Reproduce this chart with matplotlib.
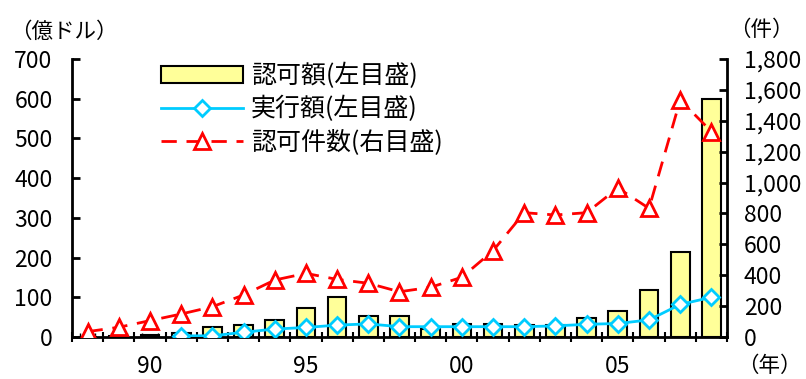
import numpy as np
import matplotlib.pyplot as plt
from matplotlib.ticker import FixedLocator, MultipleLocator, FuncFormatter

plt.rcParams['font.family'] = ['Noto Sans CJK JP', 'DejaVu Sans']

# 年次データ (1988-2008)
years = np.arange(1988, 2009)
approved_amt = [1, 2, 4, 10, 25, 30, 42, 72, 101, 53, 52, 20, 32, 32, 31, 31, 49, 66, 119, 214, 600]
executed_amt = [np.nan, np.nan, np.nan, 3, 3, 12, 20, 24, 30, 33, 26, 26, 26, 26, 26, 28, 32, 34, 43, 82, 100]
approved_cnt = [35, 63, 106, 149, 196, 272, 369, 412, 373, 348, 293, 322, 387, 559, 805, 790, 805, 965, 833, 1535, 1330]

xlabel_years = [1990, 1995, 2000, 2005]
xlabel_text = ['90', '95', '00', '05']

bar_color = '#FFFF99'
cyan = '#00CCFF'
red = '#FF0000'

fig = plt.figure(figsize=(8.06, 3.79), dpi=100)
ax = fig.add_axes([0.0893, 0.1108, 0.8127, 0.7335])
ax2 = ax.twinx()

bars = ax.bar(years, approved_amt, width=0.6, color=bar_color, edgecolor='black',
              linewidth=1.5, zorder=2, label='認可額(左目盛)')
line1, = ax.plot(years, executed_amt, color=cyan, lw=2, marker='D', ms=8,
                 mfc='white', mec=cyan, mew=2, zorder=3, label='実行額(左目盛)')
line2, = ax2.plot(years, approved_cnt, color=red, lw=2, dashes=(5.5, 3.5), marker='^', ms=11,
                  mfc='white', mec=red, mew=2, label='認可件数(右目盛)')

ax.set_xlim(1987.5, 2008.5)
ax.set_ylim(0, 700)
ax2.set_ylim(0, 1800)

for a in (ax, ax2):
    a.spines['top'].set_visible(False)
    for s in ('left', 'right', 'bottom'):
        a.spines[s].set_linewidth(2)
ax.spines['right'].set_visible(False)
ax2.spines['left'].set_visible(False)
ax2.spines['bottom'].set_visible(False)

ax.yaxis.set_major_locator(MultipleLocator(100))
ax2.yaxis.set_major_locator(MultipleLocator(200))
ax2.yaxis.set_major_formatter(FuncFormatter(lambda v, p: f'{int(v):,}'))
ax.tick_params(axis='y', direction='in', length=6, width=2, pad=14, labelsize=16.5)
ax2.tick_params(axis='y', direction='in', length=6, width=2, pad=12, labelsize=16.5)

# 年の区切りの目盛りと細かい目盛り
ax.xaxis.set_major_locator(FixedLocator(np.arange(1987.5, 2009, 1.0)))
ax.xaxis.set_minor_locator(FixedLocator(np.arange(1987.75, 2008.5, 0.5)))
ax.tick_params(axis='x', which='major', direction='inout', length=7, width=1.5, labelbottom=False)
ax.tick_params(axis='x', which='minor', direction='in', length=3, width=1)

sec = ax.secondary_xaxis('bottom')
sec.set_xticks(xlabel_years, xlabel_text)
sec.tick_params(length=0, pad=13, labelsize=16.5)
sec.spines['bottom'].set_visible(False)

fig.text(0.012, 0.915, '（億ドル）', fontsize=15.5, va='center', ha='left')
fig.text(0.985, 0.92, '（件）', fontsize=15.5, va='center', ha='right')
fig.text(0.995, 0.035, '（年）', fontsize=15.5, va='center', ha='right')

ax2.legend([bars, line1, line2], [bars.get_label(), line1.get_label(), line2.get_label()],
           loc='upper left', bbox_to_anchor=(0.187, 0.86), bbox_transform=fig.transFigure,
           frameon=False, fontsize=18, handlelength=3.3, handleheight=0.63,
           handletextpad=0.3, labelspacing=0.27, borderaxespad=0)

fig.savefig('out.png', dpi=100)
